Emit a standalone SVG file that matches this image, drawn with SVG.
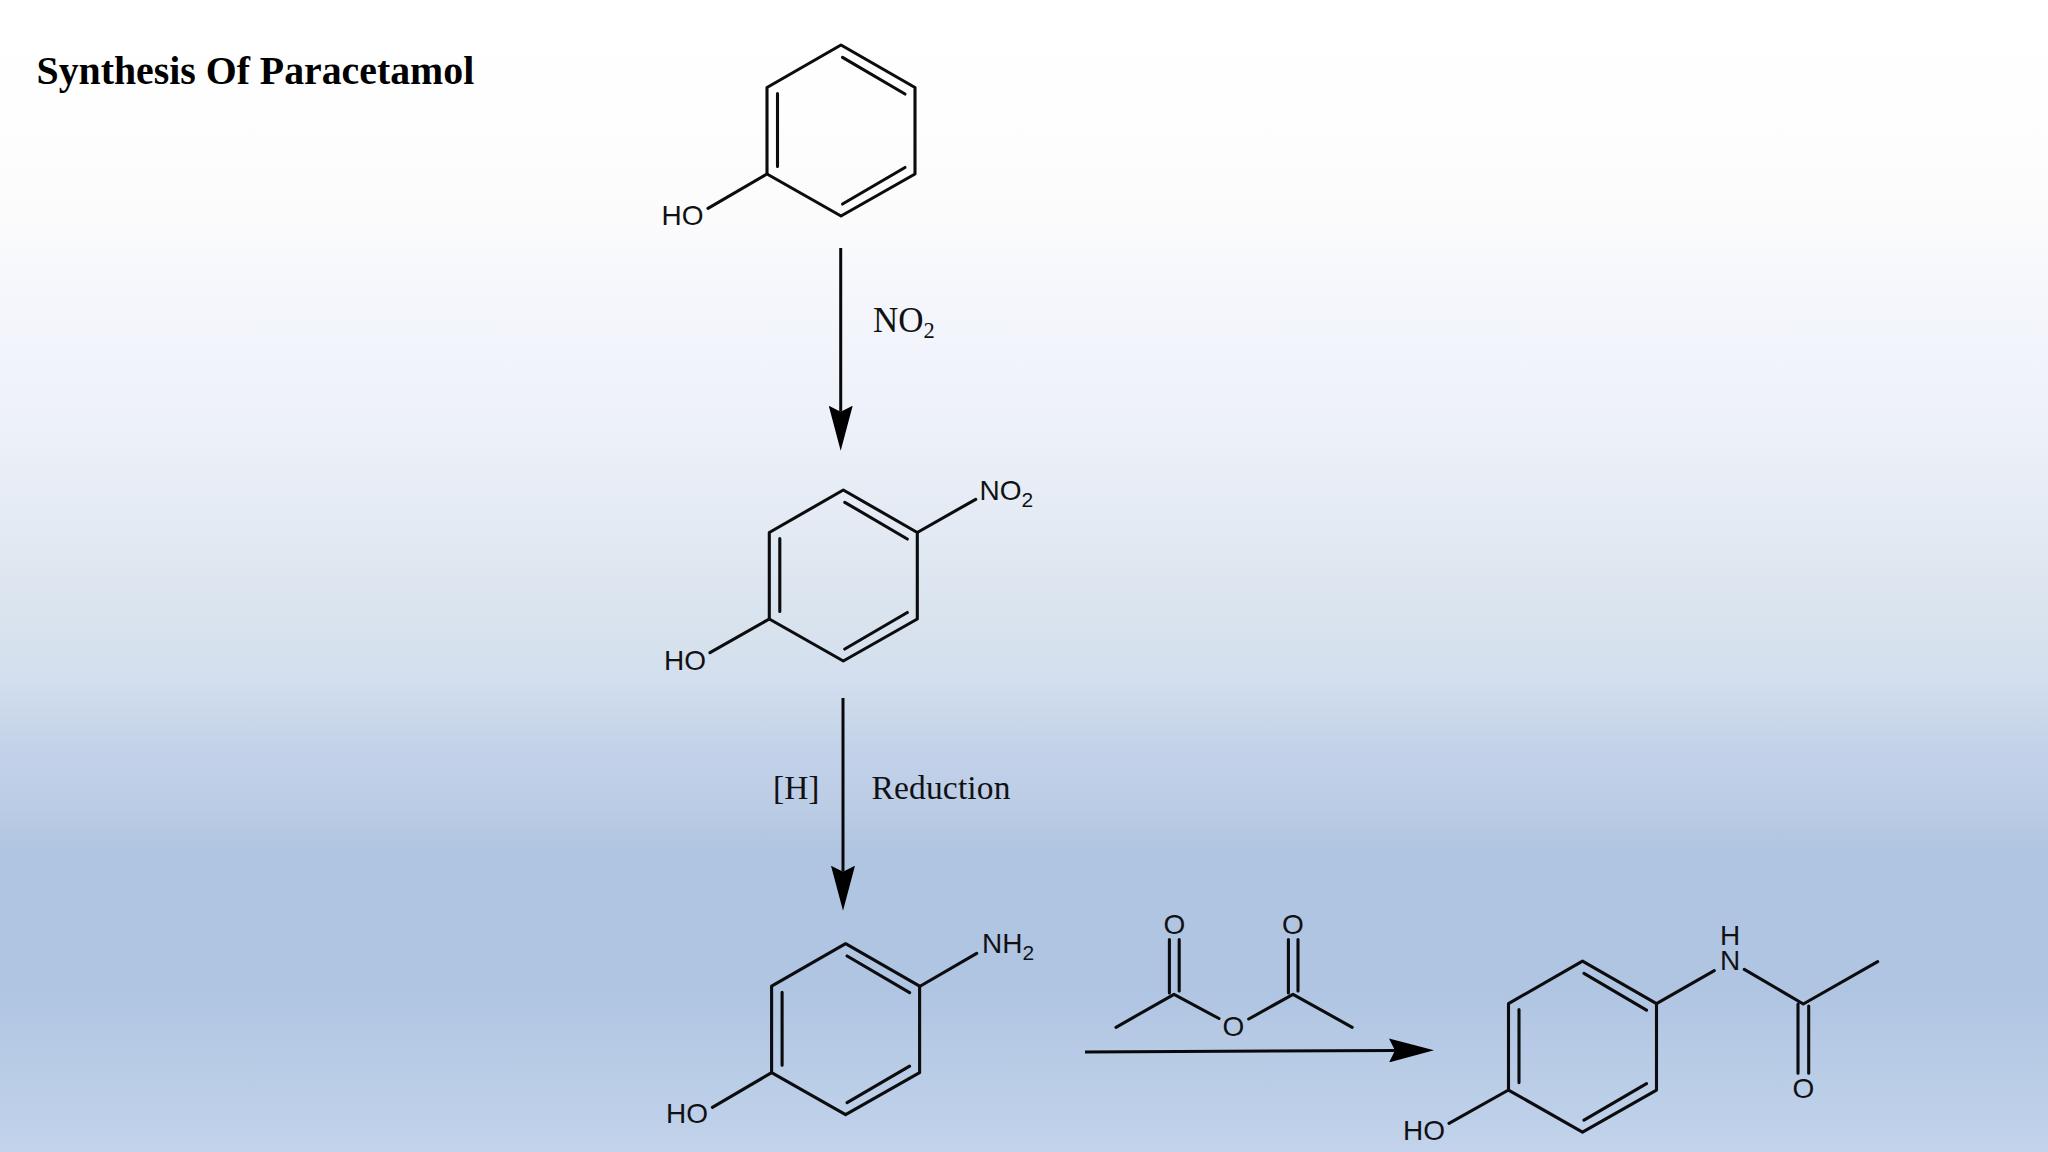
<svg xmlns="http://www.w3.org/2000/svg" width="2048" height="1152" viewBox="0 0 2048 1152">
<style>
.b{fill:none;stroke:#0c0c0e;stroke-width:3.1;stroke-linecap:round;stroke-linejoin:round}
.a{fill:none;stroke:#08080a;stroke-width:3}
.l{font-family:"Liberation Sans",Arial,sans-serif;font-size:28px;fill:#111114}
.s{font-family:"Liberation Serif","Times New Roman",serif;fill:#111114}
.r{font-size:33.5px}
</style>
<defs>
<linearGradient id="bg" x1="0" y1="0" x2="0" y2="1">
<stop offset="0" stop-color="#ffffff"/>
<stop offset="0.1" stop-color="#fefefe"/>
<stop offset="0.19" stop-color="#fbfbfc"/>
<stop offset="0.268" stop-color="#f4f6fc"/>
<stop offset="0.383" stop-color="#ecf0f8"/>
<stop offset="0.53" stop-color="#dae4ee"/>
<stop offset="0.587" stop-color="#d3dfee"/>
<stop offset="0.651" stop-color="#c3d2e9"/>
<stop offset="0.7" stop-color="#bbcce5"/>
<stop offset="0.74" stop-color="#b0c5e1"/>
<stop offset="0.86" stop-color="#b0c5e2"/>
<stop offset="0.905" stop-color="#b6cae5"/>
<stop offset="1" stop-color="#c2d3eb"/>
</linearGradient>
<marker id="head" markerUnits="userSpaceOnUse" markerWidth="45" markerHeight="24" viewBox="0 0 45 24" refX="6" refY="12" orient="auto">
<path d="M0 0L45 12L0 24L6 12Z" fill="#000"/>
</marker>
<g id="ring">
<path class="b" d="M0-85.5L74-43V43.5L0 85.5L-74 43.5V-43Z"/>
<path class="b" d="M1.5-73.2L64-36.5M-63.5-37V36M64 37L1.5 73.5"/>
</g>
</defs>
<rect id="background" width="2048" height="1152" fill="url(#bg)"/>
<text id="title" x="36.5" y="84" font-family="Liberation Serif,Times New Roman,serif" font-weight="700" font-size="39.8" fill="#000">Synthesis Of Paracetamol</text>
<g id="connectors">
<path class="a" marker-end="url(#head)" d="M840.7 248V411.7"/>
<path class="a" marker-end="url(#head)" d="M843 698V871.7"/>
<path class="a" marker-end="url(#head)" d="M1085 1052L1395 1050.4"/>
</g>
<g id="phenol">
<use href="#ring" x="841" y="130.5"/>
<path class="b" d="M767 174L708 208.3"/>
<text class="l" x="661.5" y="224.7">HO</text>
</g>
<g id="label-nitration">
<text class="s" x="873" y="331.7" font-size="35">NO<tspan font-size="22.5" dy="6.6">2</tspan></text>
</g>
<g id="nitrophenol">
<use href="#ring" x="843.3" y="575.5"/>
<path class="b" d="M769.3 619L710 652.7M917.3 532.5L975.7 499.3"/>
<text class="l" x="664" y="670">HO</text>
<text class="l" x="979.5" y="500">NO<tspan font-size="21" dy="6.6">2</tspan></text>
</g>
<g id="label-reduction">
<text class="s r" x="773" y="799.3">[H]</text>
<text class="s r" x="871.5" y="799.3" textLength="139">Reduction</text>
</g>
<g id="aminophenol">
<use href="#ring" x="845.6" y="1029.2"/>
<path class="b" d="M771.6 1072.7L712.4 1107.3M919.6 986.5L976.7 953.3"/>
<text class="l" x="666" y="1123.3">HO</text>
<text class="l" x="982" y="953.3">NH<tspan font-size="21" dy="6.6">2</tspan></text>
</g>
<g id="acetic-anhydride">
<path class="b" d="M1116 1027.3L1174 994.3L1219 1018.5M1248.7 1019L1293 994.3L1352.2 1027.3M1169.4 939.5V993M1179.2 939.5V991M1288.4 939.5V993M1298 939.5V991"/>
<text class="l" x="1174.5" y="933.5" text-anchor="middle">O</text>
<text class="l" x="1293" y="933.5" text-anchor="middle">O</text>
<text class="l" x="1233.5" y="1036" text-anchor="middle">O</text>
</g>
<g id="paracetamol">
<use href="#ring" x="1582.5" y="1046.6"/>
<path class="b" d="M1508.5 1090L1449 1123.3M1656.5 1003.6L1714.3 970.7M1744.3 969.3L1803.3 1004L1877.7 961.7M1798 1004V1073.3M1808.7 1006V1073.3"/>
<text class="l" x="1403" y="1140">HO</text>
<text class="l" x="1730" y="970" text-anchor="middle">N</text>
<text class="l" x="1730" y="945" text-anchor="middle">H</text>
<text class="l" x="1803.3" y="1098" text-anchor="middle">O</text>
</g>
</svg>
